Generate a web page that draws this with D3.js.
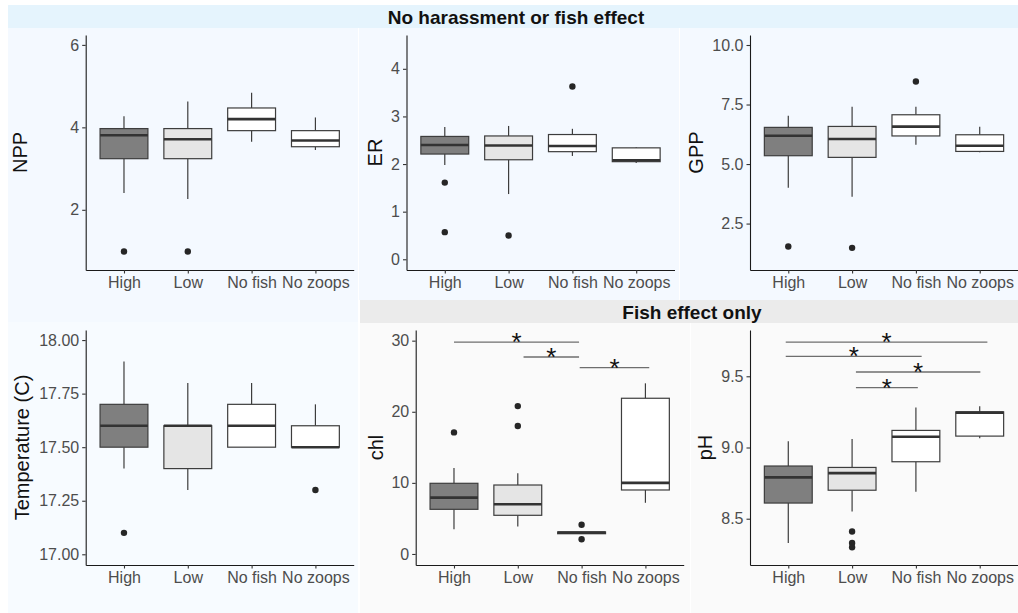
<!DOCTYPE html>
<html>
<head>
<meta charset="utf-8">
<script src="https://cdn.jsdelivr.net/npm/d3@7"></script>
<style>
  html, body { margin: 0; padding: 0; background: #ffffff; }
  svg { display: block; font-family: "Liberation Sans", Arial, Helvetica, sans-serif; }
</style>
</head>
<body>
<svg id="chart" width="1018" height="613"></svg>
<script>
// Treatment groups shared by every panel
const groups = ["High", "Low", "No fish", "No zoops"];

// Box statistics per group: [lower whisker, Q1, median, Q3, upper whisker]
const nppBoxes = [
  [2.41, 3.24, 3.81, 3.97, 4.27],
  [2.26, 3.24, 3.71, 3.97, 4.63],
  [3.65, 3.92, 4.20, 4.47, 4.84],
  [3.45, 3.53, 3.68, 3.92, 4.24]
];
const nppOutliers = [[0.99], [0.99], [], []];
const nppTicks = [2, 4, 6];
const nppLimits = [0.54, 6.24];

const erBoxes = [
  [1.98, 2.21, 2.40, 2.58, 2.78],
  [1.37, 2.09, 2.39, 2.59, 2.80],
  [2.17, 2.26, 2.38, 2.62, 2.74],
  [2.02, 2.05, 2.08, 2.34, 2.36]
];
const erOutliers = [[1.61, 0.57], [0.50], [3.63], []];
const erTicks = [0, 1, 2, 3, 4];
const erLimits = [-0.225, 4.71];

const gppBoxes = [
  [4.00, 5.35, 6.19, 6.54, 7.03],
  [3.63, 5.28, 6.05, 6.58, 7.41],
  [5.81, 6.18, 6.57, 7.07, 7.41],
  [5.50, 5.53, 5.77, 6.23, 6.57]
];
const gppOutliers = [[1.54], [1.48], [8.47], []];
const gppTicks = [2.5, 5.0, 7.5, 10.0];
const gppLimits = [0.55, 10.42];

const tempBoxes = [
  [17.40, 17.50, 17.60, 17.70, 17.90],
  [17.30, 17.40, 17.60, 17.60, 17.80],
  [17.50, 17.50, 17.60, 17.70, 17.80],
  [17.50, 17.50, 17.50, 17.60, 17.70]
];
const tempOutliers = [[17.10], [], [], [17.30]];
const tempTicks = [17.00, 17.25, 17.50, 17.75, 18.00];
const tempLimits = [16.95, 18.047];

const chlBoxes = [
  [3.47, 6.28, 7.92, 9.94, 12.10],
  [3.85, 5.44, 6.99, 9.70, 11.35],
  [2.85, 2.85, 3.00, 3.10, 3.10],
  [7.20, 9.00, 10.00, 21.90, 24.00]
];
const chlOutliers = [[17.1], [20.8, 18.0], [4.12, 2.07], []];
const chlTicks = [0, 10, 20, 30];
const chlLimits = [-1.55, 31.5];
// Pairwise significance brackets: [from (group index), to (group index), height]
const chlSignif = [[1.00, 2.96, 29.8], [2.09, 2.96, 27.7], [2.97, 4.06, 26.2]];

const phBoxes = [
  [8.33, 8.61, 8.79, 8.87, 9.044],
  [8.55, 8.70, 8.82, 8.86, 9.06],
  [8.69, 8.90, 9.075, 9.12, 9.28],
  [9.065, 9.08, 9.245, 9.25, 9.29]
];
const phOutliers = [[], [8.41, 8.33, 8.30], [], []];
const phTicks = [8.5, 9.0, 9.5];
const phLimits = [8.175, 9.825];
const phSignif = [[0.96, 4.12, 9.74], [0.96, 3.09, 9.64], [2.06, 4.01, 9.53], [2.06, 3.03, 9.42]];

const stripTop = "No harassment or fish effect";
const stripBottom = "Fish effect only";

// ---- appearance ----
const fills = ["#7f7f7f", "#e5e5e5", "#ffffff", "#ffffff"];
const boxStroke = "#3d3d3d";
const plotWidth = 268;

const svg = d3.select("#chart");

// Backgrounds and strips
const bgRects = [
  { x: 8, y: 28, w: 350, h: 294, fill: "#f4f9ff" },
  { x: 359, y: 28, w: 320, h: 272, fill: "#f4f9ff" },
  { x: 680, y: 28, w: 338, h: 272, fill: "#f4f9ff" },
  { x: 8, y: 322, w: 350, h: 291, fill: "#f7fbff" },
  { x: 360, y: 323, w: 330, h: 290, fill: "#fafafa" },
  { x: 691, y: 323, w: 327, h: 290, fill: "#fafafa" },
  { x: 8, y: 5, w: 1010, h: 23, fill: "#e5f4fd" },
  { x: 360, y: 300, w: 658, h: 23, fill: "#ebebeb" }
];
svg.selectAll("rect.bg").data(bgRects).join("rect")
  .attr("class", "bg")
  .attr("x", d => d.x).attr("y", d => d.y)
  .attr("width", d => d.w).attr("height", d => d.h)
  .attr("fill", d => d.fill);

svg.append("text").attr("x", 516).attr("y", 24)
  .attr("text-anchor", "middle").attr("font-size", 19).attr("font-weight", "bold")
  .attr("fill", "#111").text(stripTop);
svg.append("text").attr("x", 692).attr("y", 319)
  .attr("text-anchor", "middle").attr("font-size", 19).attr("font-weight", "bold")
  .attr("fill", "#111").text(stripBottom);

const panels = [
  { title: "NPP", boxes: nppBoxes, outliers: nppOutliers, ticks: nppTicks, limits: nppLimits,
    fmt: d3.format("d"), left: 85.7, top: 35, bottom: 270, titleX: 27 },
  { title: "ER", boxes: erBoxes, outliers: erOutliers, ticks: erTicks, limits: erLimits,
    fmt: d3.format("d"), left: 406.5, top: 35, bottom: 270, titleX: 382 },
  { title: "GPP", boxes: gppBoxes, outliers: gppOutliers, ticks: gppTicks, limits: gppLimits,
    fmt: d3.format(".1f"), left: 750, top: 35, bottom: 270, titleX: 703 },
  { title: "Temperature (C)", boxes: tempBoxes, outliers: tempOutliers, ticks: tempTicks, limits: tempLimits,
    fmt: d3.format(".2f"), left: 85.7, top: 330, bottom: 565, titleX: 29 },
  { title: "chl", boxes: chlBoxes, outliers: chlOutliers, ticks: chlTicks, limits: chlLimits,
    fmt: d3.format("d"), left: 415.7, top: 330, bottom: 565, titleX: 383, signif: chlSignif },
  { title: "pH", boxes: phBoxes, outliers: phOutliers, ticks: phTicks, limits: phLimits,
    fmt: d3.format(".1f"), left: 750, top: 330, bottom: 565, titleX: 712, signif: phSignif }
];

panels.forEach(p => {
  const x = d3.scaleLinear().domain([0.4, 4.6]).range([p.left, p.left + plotWidth]);
  const y = d3.scaleLinear().domain(p.limits).range([p.bottom, p.top]);
  const g = svg.append("g");
  const halfW = (x(1.375) - x(1));

  // boxes
  p.boxes.forEach((s, i) => {
    const cx = x(i + 1);
    const bg = g.append("g");
    bg.append("line").attr("x1", cx).attr("x2", cx).attr("y1", y(s[0])).attr("y2", y(s[1]))
      .attr("stroke", boxStroke).attr("stroke-width", 1.2);
    bg.append("line").attr("x1", cx).attr("x2", cx).attr("y1", y(s[3])).attr("y2", y(s[4]))
      .attr("stroke", boxStroke).attr("stroke-width", 1.2);
    bg.append("rect").attr("x", cx - halfW).attr("width", 2 * halfW)
      .attr("y", y(s[3])).attr("height", Math.max(0, y(s[1]) - y(s[3])))
      .attr("fill", fills[i]).attr("stroke", boxStroke).attr("stroke-width", 1.2);
    bg.append("line").attr("x1", cx - halfW).attr("x2", cx + halfW)
      .attr("y1", y(s[2])).attr("y2", y(s[2]))
      .attr("stroke", "#333333").attr("stroke-width", 2.6);
    bg.selectAll("circle").data(p.outliers[i]).join("circle")
      .attr("cx", cx).attr("cy", v => y(v)).attr("r", 3.2).attr("fill", "#262626");
  });

  // significance brackets
  if (p.signif) {
    p.signif.forEach(b => {
      g.append("line").attr("x1", x(b[0])).attr("x2", x(b[1]))
        .attr("y1", y(b[2])).attr("y2", y(b[2]))
        .attr("stroke", "#6e6e6e").attr("stroke-width", 1.3);
      g.append("text").attr("x", (x(b[0]) + x(b[1])) / 2).attr("y", y(b[2]) + 9)
        .attr("text-anchor", "middle").attr("font-size", 26).attr("fill", "#111").text("*");
    });
  }

  // axes
  const yAxis = g.append("g").attr("transform", `translate(${p.left},0)`)
    .call(d3.axisLeft(y).tickValues(p.ticks).tickFormat(p.fmt).tickSize(3.5).tickSizeOuter(0).tickPadding(3));
  const xAxis = g.append("g").attr("transform", `translate(0,${p.bottom})`)
    .call(d3.axisBottom(x).tickValues([1, 2, 3, 4]).tickFormat(i => groups[i - 1])
      .tickSize(3.5).tickSizeOuter(0).tickPadding(3.4));
  [yAxis, xAxis].forEach(a => {
    a.select(".domain").attr("stroke", "#1a1a1a").attr("stroke-width", 1.1);
    a.selectAll(".tick line").attr("stroke", "#333333").attr("stroke-width", 1.1);
    a.selectAll(".tick text").attr("fill", "#4d4d4d").attr("font-size", 16)
      .attr("font-family", "'Liberation Sans', Arial, sans-serif");
  });

  // axis title
  g.append("text")
    .attr("transform", `translate(${p.titleX},${(p.top + p.bottom) / 2}) rotate(-90)`)
    .attr("text-anchor", "middle").attr("font-size", 20).attr("fill", "#111")
    .text(p.title);
});
</script>
</body>
</html>
